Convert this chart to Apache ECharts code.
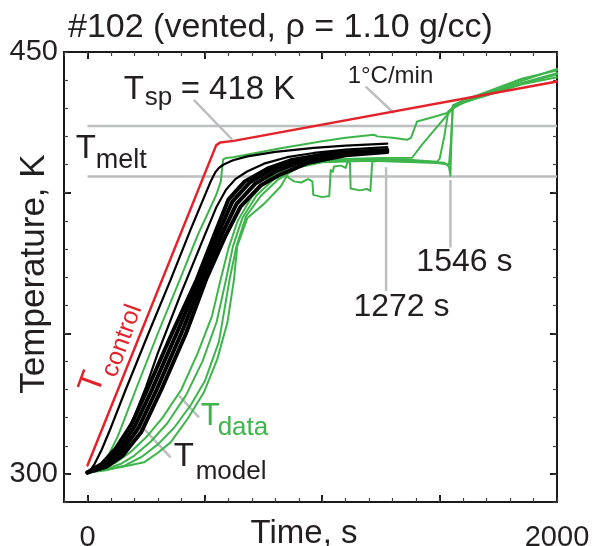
<!DOCTYPE html>
<html><head><meta charset="utf-8">
<script src="https://cdn.jsdelivr.net/npm/echarts@6/dist/echarts.min.js"></script>
<style>html,body{margin:0;padding:0;background:#fff}#c{width:594px;height:546px}</style>
</head><body><div id="c"></div>
<script>
// ---------------- data ----------------
const xTickLabels = [0, 2000];
const xMajorTicks = [0, 500, 1000, 1500, 2000];
const yTickLabels = [300, 450];
const yMajorTicks = [300, 350, 400, 450];

const tControl = [[0,303],[548,416.8],[565,417.8],[623,418.4],[2000,439.5]];

const tModel1 = [[0,300.5],[15,301.6],[30,303.5],[60,308.5],[100,316.5],[163,330],[260,350],[354,369],[440,387],[500,399],[525,404],[545,407.3],[560,408.8],[580,410],[620,411.5],[681,412.9],[800,414.5],[964,415.9],[1100,416.7],[1277,417.4]];
const tModel2 = [[0,300.5],[50,302.3],[100,306],[150,312],[200,320.5],[250,331],[300,343],[400,364.5],[500,385],[550,395],[590,401],[630,404.8],[680,407.5],[752,410.3],[850,412.6],[964,414.1],[1100,415.3],[1277,416.2]];
const tModelBandA = [[0,300.5],[60,303.5],[120,309],[190,318],[255,330],[360,350],[465,369],[545,386],[600,397.5],[670,404],[766,408.5],[865,411.5],[1035,414],[1277,415.2]];
const tModelBandB = [[0,300.5],[67,303.2],[130,308],[203,317.2],[275,330],[380,350],[478,369],[560,386],[617,396.8],[692,403.7],[785,408.2],[889,411.3],[1057,413.8],[1277,415]];
const tModelBandC = [[0,300.5],[73,302.8],[140,307.3],[217,316.3],[295,330],[400,350],[492,369],[575,385.6],[635,396],[715,403.2],[804,407.6],[912,411],[1078,413.6],[1277,414.7]];
const tModelBandD = [[0,300.5],[80,302.5],[150,306.5],[230,315],[315,330],[420,350],[505,369],[590,385],[652,395],[737,402.5],[823,406.5],[936,410.5],[1100,413.3],[1277,414.4]];

const tData1 = [[0,300.5],[40,302],[80,305],[130,313.5],[206,330],[300,350],[393,369],[470,385],[520,394],[550,399.5],[568,404],[574,409],[578,411.8],[590,412.3],[620,412.6],[700,413.8],[823,415.8],[1000,418.3],[1100,419.5],[1220,420.6],[1234,420],[1300,419.5],[1361,418.8],[1378,419.5],[1404,425.3],[1470,426.8],[1532,428.3],[1567,431.2],[1650,433.5],[1750,436.5],[1850,439],[2000,442.5]];
const tData2 = [[0,300.5],[60,301.8],[120,304],[180,307.5],[250,313],[320,320],[400,330],[470,343],[530,356],[567,369],[600,380],[640,390],[700,398.5],[766,404.5],[865,409.5],[950,411.3],[1100,412],[1250,412.3],[1383,412.4],[1420,416.5],[1470,421.5],[1532,427.6],[1567,431],[1650,433.8],[1750,436.8],[1850,439.8],[2000,444]];
const tData3 = [[0,300.5],[70,301.5],[140,303.5],[200,306.5],[270,311.5],[340,318],[420,328],[490,340],[550,354],[590,369],[620,381],[660,391],[720,399],[790,404.5],[880,409],[980,411],[1150,411.8],[1350,411.8],[1489,411],[1500,412],[1520,420],[1537,428.8],[1580,431.2],[1700,435],[1850,438.8],[2000,442]];
const tData4 = [[0,300.5],[80,301.3],[160,303],[230,306],[300,310.5],[370,316.5],[440,324.5],[500,333],[560,347],[605,369],[635,381],[675,391.5],[740,399],[810,404.5],[900,409],[1000,410.8],[1200,411.3],[1400,410.8],[1489,410.5],[1540,410],[1548,418],[1556,430],[1600,432],[1700,434.5],[1850,438.5],[2000,441]];
const tData5 = [[0,300.5],[57,301.2],[150,302.5],[241,304.1],[300,307.5],[354,311.2],[426,319.5],[496,329],[553,340.8],[596,353.8],[624,369.1],[638,381],[681,391],[752,396],[823,402.2],[850,406],[858,405.2],[880,404],[910,403.6],[940,404.8],[958,404],[962,399.2],[1000,398.4],[1030,398.8],[1036,408],[1045,407.4],[1050,409.3],[1080,409.6],[1100,408.8],[1108,411],[1118,410.6],[1121,401.5],[1160,400.8],[1190,401.3],[1205,400.6],[1213,411],[1260,411.5],[1350,411.4],[1450,411],[1520,410.6],[1540,409.2],[1546,406],[1550,418],[1556,431],[1600,432.8],[1700,435.8],[1850,440.5],[2000,443.5]];

const meltRange = [405.7, 423.7];
const markTimes = [1272, 1546];

// ---------------- styles ----------------
const FONT = '"Liberation Sans", Arial, Helvetica, sans-serif';
const TEXT = '#231f20';
const RED = '#e3222a';
const GREEN = '#3db54a';
const BLACK = '#000000';
const GRAY = '#bcbec0';

function lineSeries(data, color, width) {
  return {
    type: 'line', data: data, showSymbol: false, symbol: 'none', silent: true,
    smooth: false, clip: true, xAxisIndex: 0, yAxisIndex: 0,
    lineStyle: { color: color, width: width, cap: 'round', join: 'round' }
  };
}
function grayLine(data) {
  return { type: 'line', data: data, showSymbol: false, symbol: 'none', silent: true,
    xAxisIndex: 0, yAxisIndex: 0, lineStyle: { color: GRAY, width: 2.5 }, z: 1 };
}
function txt(pos, text, size, color, place, rotate) {
  return {
    value: pos,
    itemStyle: { opacity: 1 },
    label: {
      show: true, formatter: text, fontSize: size, color: color, fontFamily: FONT,
      position: place === 'left' ? 'right' : 'inside', distance: 0,
      rotate: rotate || 0, opacity: 1, textBorderWidth: 0, textShadowBlur: 0
    }
  };
}

const annotations = [
  txt([154.5, 436.5], 'T', 33, TEXT, 'left'),
  txt([244, 433.7], 'sp', 26, TEXT, 'left'),
  txt([397, 436.5], '= 418 K', 33, TEXT, 'left'),
  txt([-49.8, 415.4], 'T', 33, TEXT, 'left'),
  txt([35.3, 411.5], 'melt', 27, TEXT, 'left'),
  txt([1290.6, 441.2], '1°C/min', 24, TEXT, 'center'),
  txt([1337.4, 359.4], '1272 s', 32, TEXT, 'center'),
  txt([1605.5, 375.1], '1546 s', 32, TEXT, 'center'),
  txt([482, 320.4], 'T', 31, GREEN, 'left'),
  txt([554.5, 316.3], 'data', 26, GREEN, 'left'),
  txt([367, 305.9], 'T', 33, TEXT, 'left'),
  txt([460.9, 300.9], 'model', 26, TEXT, 'left'),
  txt([22, 332.5], 'T', 33, RED, 'center', 70),
  txt([148, 347.3], 'control', 25, RED, 'center', 70)
];

const series = [
  grayLine([[0, meltRange[1]], [2000, meltRange[1]]]),
  grayLine([[0, meltRange[0]], [2000, meltRange[0]]]),
  grayLine([[markTimes[0], 409], [markTimes[0], 365]]),
  grayLine([[markTimes[1], 404.5], [markTimes[1], 380.5]]),
  grayLine([[453, 433], [617, 418.8]]),
  grayLine([[1185, 437.7], [1305, 428.3]]),
  grayLine([[390, 327.8], [475, 320.1]]),
  grayLine([[234, 316.6], [354, 305.9]]),
  lineSeries(tData5, GREEN, 2),
  lineSeries(tData4, GREEN, 2),
  lineSeries(tData3, GREEN, 2),
  lineSeries(tData2, GREEN, 2),
  lineSeries(tData1, GREEN, 2),
  lineSeries(tModelBandA, BLACK, 4),
  lineSeries(tModelBandB, BLACK, 4),
  lineSeries(tModelBandC, BLACK, 4),
  lineSeries(tModelBandD, BLACK, 4),
  lineSeries(tModel2, BLACK, 2.2),
  lineSeries(tModel1, BLACK, 2.2),
  lineSeries(tControl, RED, 2.5),
  { type: 'scatter', data: annotations, symbolSize: 0, silent: true, clip: false, z: 10,
    xAxisIndex: 0, yAxisIndex: 0, itemStyle: { opacity: 1 } }
];

const axisLineStyle = { color: '#1a1a1a', width: 2 };
const plainNum = function (v) { return String(v); };
// grid 0: frame, major ticks, labels; grid 1 (same rectangle): minor ticks
function xAx(pos, grid, major) {
  return {
    type: 'value', gridIndex: grid, position: pos, min: -100, max: 2000, interval: 100,
    axisLine: { show: true, onZero: false, lineStyle: axisLineStyle },
    axisTick: major ? { show: true, inside: true, length: 7, customValues: xMajorTicks, lineStyle: { color: '#1a1a1a', width: 2 } }
                    : { show: true, inside: true, length: 4, lineStyle: { color: '#444', width: 1.2 } },
    axisLabel: (major && pos === 'bottom') ? { show: true, customValues: xTickLabels, formatter: plainNum, margin: 21, fontSize: 29, color: TEXT, fontFamily: FONT } : { show: false },
    splitLine: { show: false }
  };
}
function yAx(pos, grid, major) {
  return {
    type: 'value', gridIndex: grid, position: pos, min: 290, max: 450, interval: 10,
    axisLine: { show: true, onZero: false, lineStyle: axisLineStyle },
    axisTick: major ? { show: true, inside: true, length: 7, customValues: yMajorTicks, lineStyle: { color: '#1a1a1a', width: 2 } }
                    : { show: true, inside: true, length: 4, lineStyle: { color: '#444', width: 1.2 } },
    axisLabel: (major && pos === 'left') ? { show: true, customValues: yTickLabels, formatter: plainNum, margin: 6, fontSize: 29, color: TEXT, fontFamily: FONT } : { show: false },
    splitLine: { show: false }
  };
}

const gridRect = { left: 64, right: 37, top: 52, bottom: 44, containLabel: false, outerBoundsMode: 'none' };

const chart = echarts.init(document.getElementById('c'), null, { renderer: 'canvas' });
chart.setOption({
  animation: false,
  backgroundColor: '#ffffff',
  textStyle: { fontFamily: FONT },
  title: {
    text: '#102 (vented, ρ = 1.10 g/cc)', left: 63, top: 6,
    textStyle: { fontSize: 34, fontWeight: 'normal', color: TEXT, fontFamily: FONT }
  },
  grid: [Object.assign({}, gridRect), Object.assign({}, gridRect)],
  xAxis: [xAx('bottom', 0, true), xAx('top', 0, true), xAx('bottom', 1, false), xAx('top', 1, false)],
  yAxis: [yAx('left', 0, true), yAx('right', 0, true), yAx('left', 1, false), yAx('right', 1, false)],
  graphic: [
    { type: 'text', x: 304, y: 534, silent: true,
      style: { text: 'Time, s', font: '33px ' + FONT, fill: TEXT, align: 'center', verticalAlign: 'middle', textAlign: 'center', textVerticalAlign: 'middle' } },
    { type: 'text', x: 34, y: 274, rotation: Math.PI / 2, silent: true,
      style: { text: 'Temperature, K', font: '35px ' + FONT, fill: TEXT, align: 'center', verticalAlign: 'middle', textAlign: 'center', textVerticalAlign: 'middle' } }
  ],
  series: series
});
</script>
</body></html>
